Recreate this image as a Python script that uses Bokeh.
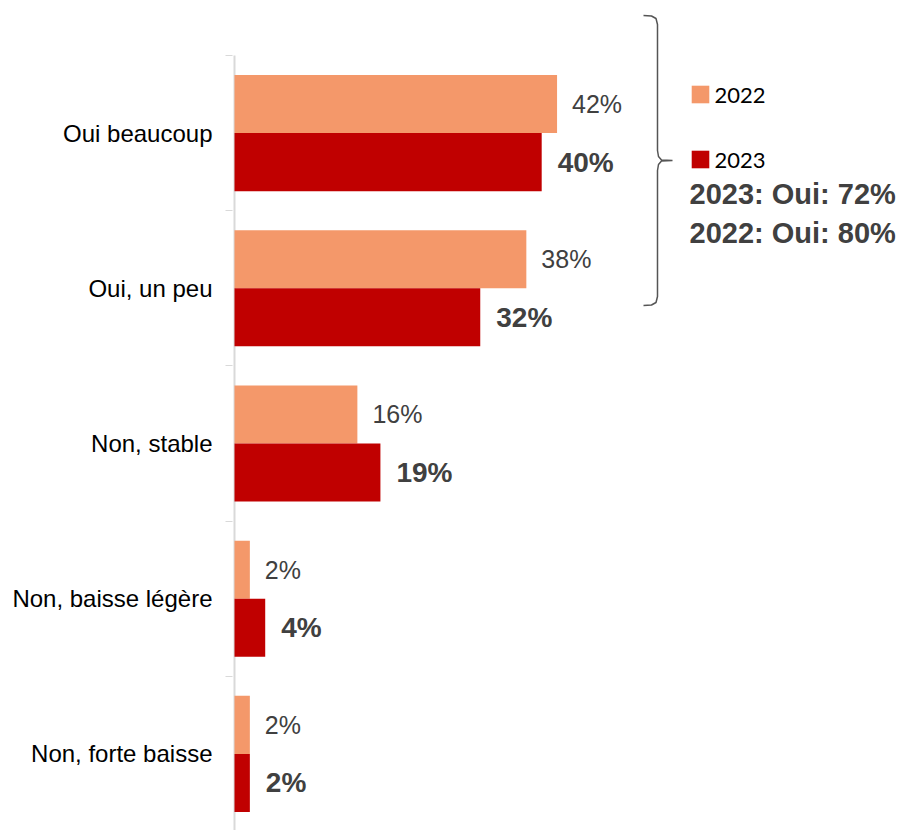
from bokeh.plotting import figure
from bokeh.models import (Range1d, LinearAxis, FixedTicker, Legend, LegendItem,
                          Label, ColumnDataSource)
from bokeh.core.properties import value
from bokeh.embed import file_html
from bokeh.resources import INLINE

# ---------------- data ----------------
categories = ["Oui beaucoup", "Oui, un peu", "Non, stable",
              "Non, baisse légère", "Non, forte baisse"]
values_2022 = [42, 38, 16, 2, 2]
values_2023 = [40, 32, 19, 4, 2]
series_names = ["2022", "2023"]

# ---------------- style ----------------
C2022 = "#F4986A"
C2023 = "#C00000"
GREY_AXIS = "#D9D9D9"
TXT = "#404040"
FONT = "Liberation Sans"

PX_PER_UNIT_X = 7.68      # pixels per percent
BAND_PX = 155.2           # pixels per category band
W, H = 922, 830
LEFT = 232
X0 = -0.26
x_end = X0 + (W - LEFT) / PX_PER_UNIT_X
y_start = (831 - H) / BAND_PX
y_end = 831 / BAND_PX

n = len(categories)
centers = [n - 0.5 - i for i in range(n)]
off = 0.187
bar_h = 0.374

src = ColumnDataSource(dict(
    y22=[c + off for c in centers],
    y23=[c - off for c in centers],
    v22=values_2022,
    v23=values_2023,
    l22=[f"{v}%" for v in values_2022],
    l23=[f"{v}%" for v in values_2023],
))

p = figure(width=W, height=H, output_backend="svg", toolbar_location=None,
           x_range=Range1d(X0, x_end), y_range=Range1d(y_start, y_end),
           x_axis_location=None, y_axis_location=None,
           min_border_left=LEFT, min_border_right=0, min_border_top=0,
           min_border_bottom=0)
p.outline_line_color = None
p.xgrid.visible = False
p.ygrid.visible = False

yaxis = LinearAxis(ticker=FixedTicker(ticks=centers, minor_ticks=list(range(n + 1))))
yaxis.major_label_overrides = {c: cat for c, cat in zip(centers, categories)}
yaxis.axis_line_color = None
yaxis.major_tick_line_color = None
yaxis.major_tick_out = 0
yaxis.major_tick_in = 0
yaxis.minor_tick_line_color = GREY_AXIS
yaxis.minor_tick_line_width = 1
yaxis.minor_tick_out = 7
yaxis.minor_tick_in = 0
yaxis.major_label_standoff = 13
yaxis.major_label_text_font = FONT
yaxis.major_label_text_font_size = "24px"
yaxis.major_label_text_color = "#000000"
p.add_layout(yaxis, "left")

# axis line (from top of first band to bottom)
p.segment(x0=[0], y0=[0], x1=[0], y1=[n], line_color=GREY_AXIS, line_width=2)

r22 = p.hbar(y="y22", right="v22", left=0, height=bar_h, source=src,
             fill_color=C2022, line_color=None)
r23 = p.hbar(y="y23", right="v23", left=0, height=bar_h, source=src,
             fill_color=C2023, line_color=None)

p.text(x="v22", y="y22", text="l22", source=src, x_offset=15,
       text_baseline="middle", text_align="left", text_font=value(FONT),
       text_font_size="25px", text_color=TXT)
p.text(x="v23", y="y23", text="l23", source=src, x_offset=16,
       text_baseline="middle", text_align="left", text_font=value(FONT),
       text_font_size="28px", text_font_style="bold", text_color=TXT)

# brace (decoration), defined in pixel space and converted to data space
def dx(px):
    return (px - 234) / PX_PER_UNIT_X

def dy(py):
    return (831 - py) / BAND_PX

brace_px = [(643, 15), (651, 15.5), (655.5, 18), (657, 24), (657, 150),
            (658, 156), (661, 159.5), (672, 160), (661, 160.5), (658, 164),
            (657, 170), (657, 296), (655.5, 302), (651, 304.5), (643, 305)]
p.line([dx(a) for a, b in brace_px], [dy(b) for a, b in brace_px],
       line_color="#555555", line_width=1.5)

# legends
for r, name, ly in [(r22, series_names[0], 722.5), (r23, series_names[1], 657.5)]:
    lg = Legend(items=[LegendItem(label=name, renderers=[r])],
                location=(456.5, ly), padding=0, margin=0, spacing=0,
                glyph_width=22, glyph_height=22, label_height=19,
                label_standoff=4, border_line_color=None,
                background_fill_alpha=0,
                label_text_font="Lato", label_text_font_size="22px",
                label_text_color="#000000")
    p.add_layout(lg)

oui23 = values_2023[0] + values_2023[1]
oui22 = values_2022[0] + values_2022[1]
for txt, ly in [(f"2023: Oui: {oui23}%", 637), (f"2022: Oui: {oui22}%", 598)]:
    p.add_layout(Label(x=457, y=ly, x_units="screen", y_units="screen",
                       text=txt, text_font=FONT, text_font_size="29px",
                       text_font_style="bold", text_color=TXT,
                       text_baseline="middle", text_align="left"))

open("out.html", "w").write(file_html(p, INLINE))
